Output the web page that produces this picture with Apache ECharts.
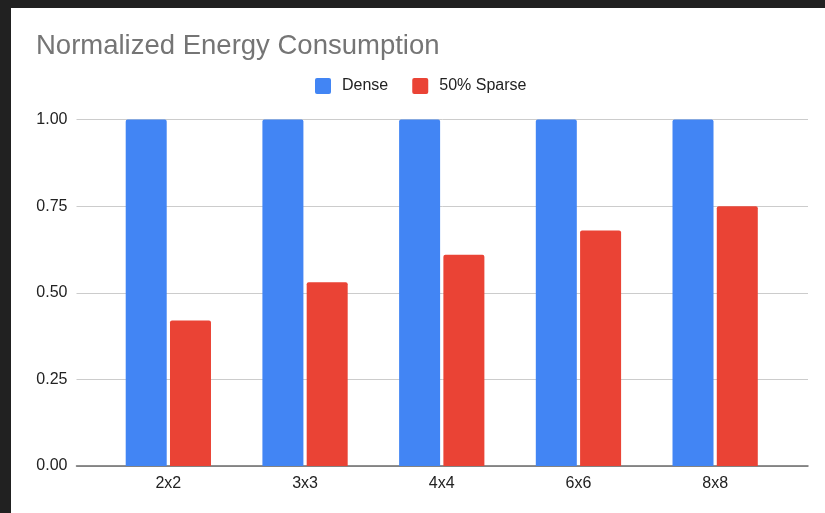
<!DOCTYPE html>
<html>
<head>
<meta charset="utf-8">
<script src="https://cdn.jsdelivr.net/npm/echarts@6/dist/echarts.min.js"></script>
<style>
  html, body { margin: 0; padding: 0; background: #ffffff; }
  #chart { width: 825px; height: 513px; }
</style>
</head>
<body>
<div id="chart"></div>
<script>
// Kernel sizes on the x axis
const categories = ['2x2', '3x3', '4x4', '6x6', '8x8'];
// Energy normalized to the dense baseline
const denseValues = [1.00, 1.00, 1.00, 1.00, 1.00];
const sparseValues = [0.42, 0.53, 0.61, 0.68, 0.75];
const seriesNames = ['Dense', '50% Sparse'];
const yTicks = { min: 0, max: 1, interval: 0.25 };

const FONT = '"Liberation Sans", Arial, Helvetica, sans-serif';
// square legend swatch with slightly rounded corners
const SWATCH = 'path://M2,0H14Q16,0 16,2V14Q16,16 14,16H2Q0,16 0,14V2Q0,0 2,0Z';

const chart = echarts.init(document.getElementById('chart'), null, { renderer: 'canvas' });

chart.setOption({
  backgroundColor: '#ffffff',
  animation: false,
  graphic: [
    { type: 'rect', left: 0, top: 0, shape: { width: 825, height: 8 }, style: { fill: '#212121' }, z: 100 },
    { type: 'rect', left: 0, top: 0, shape: { width: 11, height: 513 }, style: { fill: '#212121' }, z: 100 }
  ],
  title: {
    text: 'Normalized Energy Consumption',
    left: 36,
    top: 32,
    padding: 0,
    textStyle: { fontFamily: FONT, fontSize: 27.5, fontWeight: 'normal', color: '#757575' }
  },
  legend: {
    data: seriesNames,
    left: 315,
    top: 78,
    padding: 0,
    itemWidth: 16,
    itemHeight: 16,
    itemGap: 24,
    icon: SWATCH,
    textStyle: { fontFamily: FONT, fontSize: 16, color: '#222222', padding: [0, 0, 0, 6] }
  },
  grid: [
    // full-width grid carrying the value axis, gridlines and baseline
    { left: 76.5, right: 17, top: 119.5, bottom: 47 },
    // inner grid where the grouped bars sit
    { left: 100, right: 41.5, top: 119.5, bottom: 47 }
  ],
  xAxis: [
    {
      gridIndex: 0, type: 'category', data: categories,
      axisLine: { show: true, lineStyle: { color: '#6b6b6b', width: 1.5 } },
      axisTick: { show: false }, axisLabel: { show: false }, splitLine: { show: false }
    },
    {
      gridIndex: 1, type: 'category', data: categories,
      axisLine: { show: false }, axisTick: { show: false },
      axisLabel: { fontFamily: FONT, fontSize: 16, color: '#222222', margin: 10 }
    }
  ],
  yAxis: [
    {
      gridIndex: 0, type: 'value', min: yTicks.min, max: yTicks.max, interval: yTicks.interval,
      axisLine: { show: false }, axisTick: { show: false },
      axisLabel: { fontFamily: FONT, fontSize: 16, color: '#222222', margin: 9,
                   formatter: v => v.toFixed(2) },
      splitLine: { lineStyle: { color: '#cccccc', width: 1 } }
    },
    {
      gridIndex: 1, type: 'value', min: yTicks.min, max: yTicks.max, interval: yTicks.interval,
      show: false, splitLine: { show: false }
    }
  ],
  series: [
    {
      name: seriesNames[0], type: 'bar', xAxisIndex: 1, yAxisIndex: 1,
      data: denseValues, barWidth: 41, barGap: '8%',
      itemStyle: { color: '#4285f4', borderRadius: [2, 2, 0, 0] }
    },
    {
      name: seriesNames[1], type: 'bar', xAxisIndex: 1, yAxisIndex: 1,
      data: sparseValues, barWidth: 41, barGap: '8%',
      itemStyle: { color: '#ea4335', borderRadius: [2, 2, 0, 0] }
    }
  ]
});
</script>
</body>
</html>
